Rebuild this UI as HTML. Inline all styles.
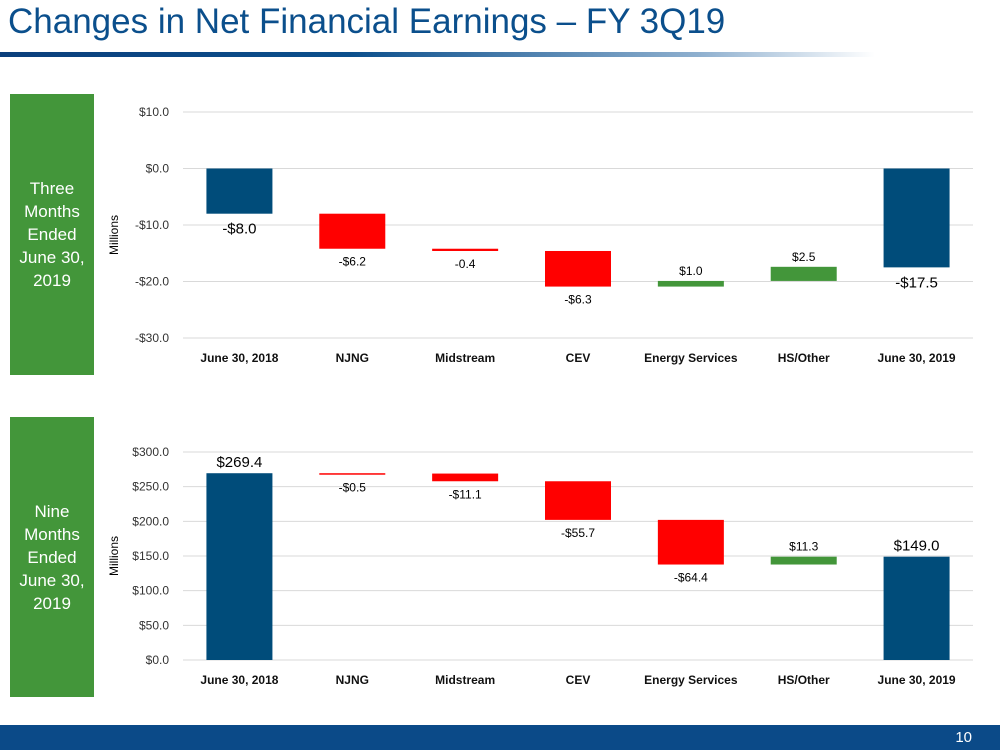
<!DOCTYPE html>
<html><head><meta charset="utf-8"><style>
body{margin:0;width:1000px;height:750px;background:#fff;position:relative;overflow:hidden;font-family:"Liberation Sans",sans-serif}
.title{position:absolute;left:8px;top:2px;font-size:35px;color:#0b4f8c;letter-spacing:0px;font-family:"Liberation Sans Narrow","Liberation Sans",sans-serif}
.rule{position:absolute;left:0;top:52px;width:875px;height:5px;background:linear-gradient(90deg,#0b3f7c 0%,#0b4f8c 40%,#8fb0cf 80%,#ffffff 100%)}
.side{position:absolute;left:10px;width:84px;background:#43963a;color:#fff;font-size:17px;line-height:23px;text-align:center;display:flex;align-items:center;justify-content:center}
.footer{position:absolute;left:0;top:725px;width:1000px;height:25px;background:#0b4a88;color:#fff;font-size:15px}
svg{position:absolute;left:0;top:0}
</style></head><body>
<div class="title">Changes in Net Financial Earnings – FY 3Q19</div>
<div class="rule"></div>
<div class="side" style="top:94px;height:281px">Three<br>Months<br>Ended<br>June 30,<br>2019</div>
<div class="side" style="top:417px;height:280px">Nine<br>Months<br>Ended<br>June 30,<br>2019</div>
<div class="footer"><span style="position:absolute;right:28px;top:4px">10</span></div>
<svg id="chart" width="1000" height="750"></svg>
<script>
const categories=["June 30, 2018","NJNG","Midstream","CEV","Energy Services","HS/Other","June 30, 2019"];
const q3Values=[-8.0,-6.2,-0.4,-6.3,1.0,2.5,-17.5];
const q3Labels=["-$8.0","-$6.2","-0.4","-$6.3","$1.0","$2.5","-$17.5"];
const q3Ticks=[10,0,-10,-20,-30];
const q3TickLabels=["$10.0","$0.0","-$10.0","-$20.0","-$30.0"];
const ytdValues=[269.4,-0.5,-11.1,-55.7,-64.4,11.3,149.0];
const ytdLabels=["$269.4","-$0.5","-$11.1","-$55.7","-$64.4","$11.3","$149.0"];
const ytdTicks=[300,250,200,150,100,50,0];
const ytdTickLabels=["$300.0","$250.0","$200.0","$150.0","$100.0","$50.0","$0.0"];

const NS="http://www.w3.org/2000/svg";
const svg=document.getElementById('chart');
function mk(tag,attrs,txt){const e=document.createElementNS(NS,tag);for(const k in attrs)e.setAttribute(k,attrs[k]);if(txt!==undefined)e.textContent=txt;svg.appendChild(e);return e;}
function draw(prefix,values,labels,ticks,tickLabels,vTop,yTop,vBot,yBot,catY,millY){
  const y=v=>yTop+(v-vTop)*(yBot-yTop)/(vBot-vTop);
  const x0=183,x1=973,n=categories.length,step=(x1-x0)/n;
  const xc=i=>x0+step*(i+0.5);
  ticks.forEach((t,i)=>{
    const l=mk('line',{x1:x0,x2:x1,y1:y(t),y2:y(t),stroke:'#d9d9d9','stroke-width':1});
    
    
    const tx=mk('text',{x:169,y:y(t)+4,'text-anchor':'end','font-size':12,fill:'#333'},tickLabels[i]);
    
    
  });
  const mt=mk('text',{x:0,y:0,transform:`translate(118,${millY}) rotate(-90)`,'text-anchor':'middle','font-size':12,fill:'#000'},'Millions');
  
  
  let run=0;
  values.forEach((v,i)=>{
    const total=(i===0||i===n-1);
    let a,b,col;
    if(total){a=0;b=v;col='#004c7a';run=v;}
    else{a=run;b=run+v;run=b;col=v<0?'#ff0000':'#43963a';}
    const top=Math.min(y(a),y(b)),h=Math.max(Math.abs(y(a)-y(b)),1.5);
    const r=mk('rect',{x:xc(i)-33,y:top,width:66,height:h,fill:col});
    
    
    const up=v>0;
    const ly=up?top-6:top+h+(total?20:17);
    const lb=mk('text',{x:xc(i),y:ly,'text-anchor':'middle','font-size':total?15:12,fill:'#000'},labels[i]);
    
    
    const cl=mk('text',{x:xc(i),y:catY,'text-anchor':'middle','font-size':12,'font-weight':'bold',fill:'#111'},categories[i]);
    
    
  });
}
draw('q3',q3Values,q3Labels,q3Ticks,q3TickLabels,10,112,-30,338,362,235);
draw('ytd',ytdValues,ytdLabels,ytdTicks,ytdTickLabels,300,452,0,660,684,556);
</script>
</body></html>
